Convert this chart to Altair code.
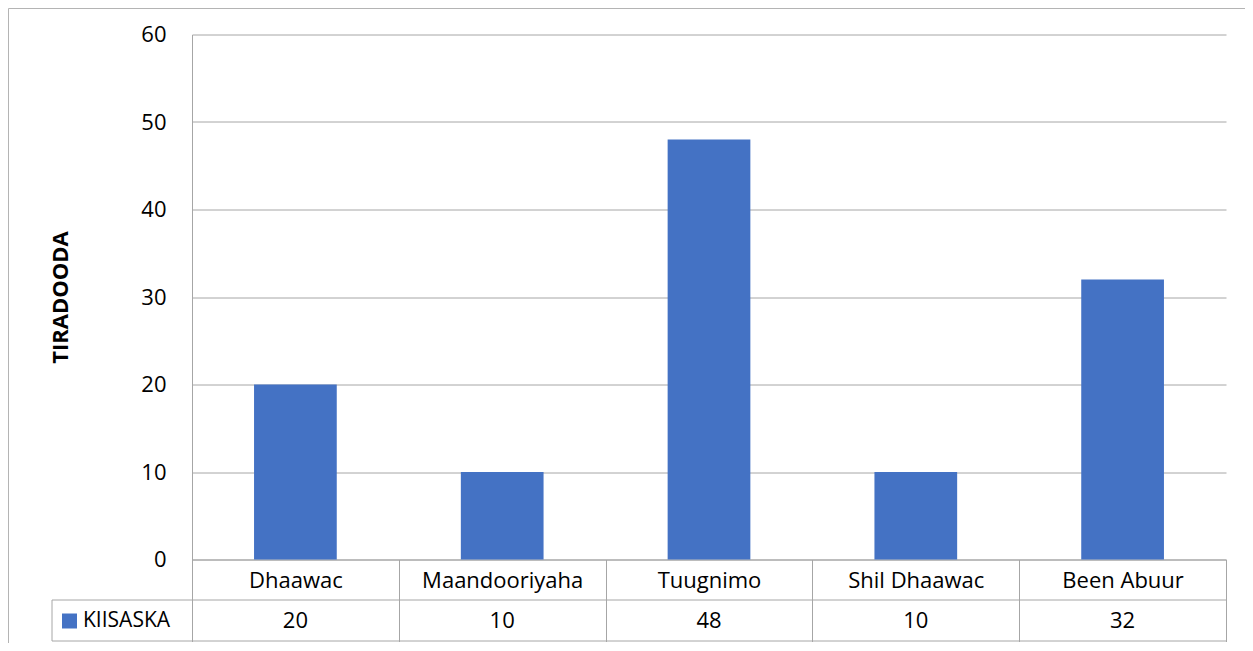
import altair as alt
import pandas as pd

categories = ["Dhaawac", "Maandooriyaha", "Tuugnimo", "Shil Dhaawac", "Been Abuur"]
values = [20, 10, 48, 10, 32]
series_name = "KIISASKA"
y_ticks = [0, 10, 20, 30, 40, 50, 60]

df = pd.DataFrame({"cat": categories, "val": values, "series": [series_name] * len(categories)})
one = pd.DataFrame({"d": [0]})

W, H = 1034, 525
FONT = "Open Sans"
GRID = "#a6a6a6"
BLUE = "#4472c4"

xscale = alt.Scale(domain=categories, paddingInner=0, paddingOuter=0)
yscale = alt.Scale(domain=[0, 60], nice=False)

bars = alt.Chart(df).mark_bar(width=alt.RelativeBandSize(0.4)).encode(
    x=alt.X("cat:N", sort=categories, scale=xscale, title=None,
            axis=alt.Axis(orient="bottom", labelAngle=0, tickBand="extent", ticks=True,
                          tickSize=82, tickColor=GRID, tickWidth=1, domainColor=GRID,
                          labelFont=FONT, labelFontSize=22, labelColor="#000000",
                          labelBaseline="middle", labelPadding=-61, grid=False)),
    y=alt.Y("val:Q", scale=yscale,
            axis=alt.Axis(values=y_ticks, title="TIRADOODA", titleFont=FONT, titleFontSize=22,
                          titleFontWeight="bold", titleColor="#000000", titleAngle=270,
                          titleBaseline="middle", titleAlign="center", titleX=-132, titleY=H / 2,
                          labelFont=FONT, labelFontSize=22, labelColor="#000000",
                          labelPadding=26, ticks=False, domainColor=GRID,
                          grid=True, gridColor=GRID, gridWidth=1)),
    color=alt.Color("series:N", scale=alt.Scale(range=[BLUE]),
                    legend=alt.Legend(orient="none", legendX=-133, legendY=576, title=None,
                                      symbolType="square", symbolSize=225, symbolStrokeWidth=0,
                                      labelFont=FONT, labelFontSize=21, labelColor="#000000",
                                      labelOffset=3, padding=0)),
)

val_text = alt.Chart(df).mark_text(font=FONT, fontSize=22, color="#000000", baseline="middle").encode(
    x=alt.X("cat:N", sort=categories, scale=xscale),
    y=alt.value(586),
    text="val:Q",
)

hrules = alt.Chart(one).mark_rule(color=GRID, strokeWidth=1).encode(
    x=alt.value(-140), x2=alt.value(W), y=alt.value(565.5)
) + alt.Chart(one).mark_rule(color=GRID, strokeWidth=1).encode(
    x=alt.value(-140), x2=alt.value(W), y=alt.value(606.5)
) + alt.Chart(one).mark_rule(color=GRID, strokeWidth=1).encode(
    x=alt.value(-140), y=alt.value(565.5), y2=alt.value(606.5)
)

border = alt.Chart(one).mark_rect(fill=None, stroke="#b4b4b4", strokeWidth=1).encode(
    x=alt.value(-183.5), x2=alt.value(W + 100), y=alt.value(-26), y2=alt.value(H + 200)
)

chart = alt.layer(border, bars, val_text, hrules).properties(
    width=W, height=H,
    autosize=alt.AutoSizeParams(type="none"),
    padding={"left": 184, "top": 26.5, "right": 19, "bottom": 83},
).configure_view(stroke=None)

chart.save("out.html", embed_options={"renderer": "svg", "actions": False})
